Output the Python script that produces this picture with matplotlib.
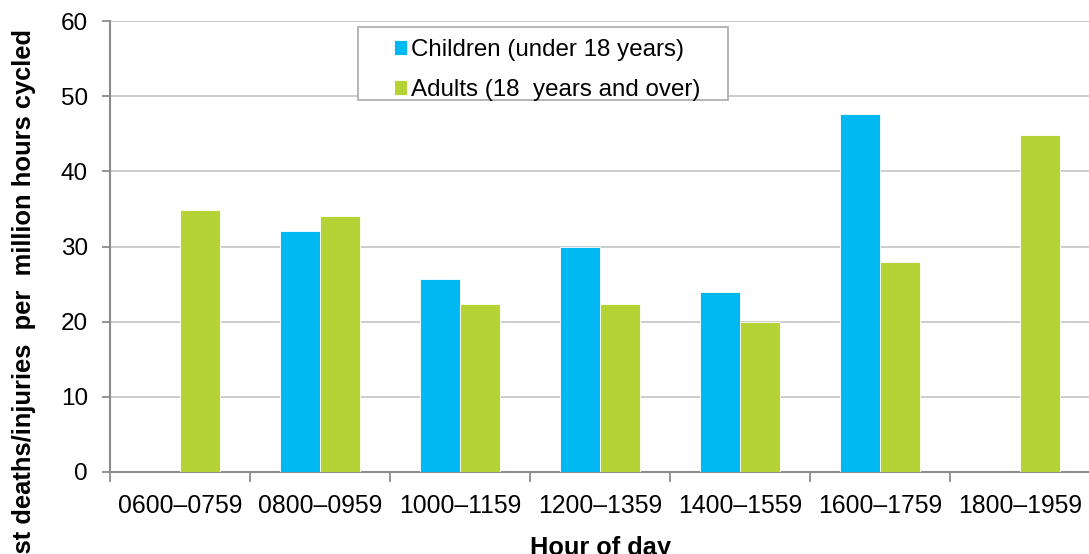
import numpy as np
import matplotlib
matplotlib.use("Agg")
import matplotlib.pyplot as plt
from matplotlib.patches import Rectangle

# данные
hours = ["0600–0759", "0800–0959", "1000–1159", "1200–1359",
         "1400–1559", "1600–1759", "1800–1959"]
children = [0, 32.0, 25.7, 30.0, 23.9, 47.6, 0]
adults = [34.8, 34.0, 22.3, 22.3, 19.9, 27.9, 44.9]
series_names = ["Children (under 18 years)", "Adults (18  years and over)"]

plt.rcParams['font.family'] = ['Liberation Sans', 'DejaVu Sans']

fig = plt.figure(figsize=(10.89, 5.54), dpi=100)
ax = fig.add_axes([110 / 1089, 1 - 472 / 554, 980 / 1089, 451 / 554])

x = np.arange(len(hours)) + 0.5
w = 0.286
b1 = ax.bar(x - w / 2, children, w, color='#00B9F2', edgecolor='white', linewidth=0.6,
            label=series_names[0], zorder=3)
b2 = ax.bar(x + w / 2, adults, w, color='#B5D334', edgecolor='white', linewidth=0.6,
            label=series_names[1], zorder=3)

ax.set_xlim(0, len(hours))
ax.set_ylim(0, 60)
ax.set_yticks(range(0, 61, 10))
ax.yaxis.grid(True, color='#c8c8c8', linewidth=1.3, zorder=0)
ax.set_axisbelow(True)

# тики на границах категорий, подписи по центру
ax.set_xticks(np.arange(len(hours) + 1))
ax.set_xticklabels([])
ax.set_xticks(x, minor=True)
ax.set_xticklabels(hours, minor=True)
ax.tick_params(axis='x', which='minor', length=0, pad=16, labelsize=17.8)
ax.tick_params(axis='x', which='major', length=7, width=1.3, color='#8c8c8c')
ax.tick_params(axis='y', length=6, width=1.3, color='#8c8c8c', pad=10, labelsize=17.5)

for s in ['top', 'right']:
    ax.spines[s].set_visible(False)
for s in ['left', 'bottom']:
    ax.spines[s].set_color('#8c8c8c')
    ax.spines[s].set_linewidth(1.5)

ax.set_xlabel("Hour of day", fontsize=18.3, fontweight='bold', labelpad=13)
fig.text(24 / 1089, 1 - 29 / 554, "Cyclist deaths/injuries  per  million hours cycled",
         rotation=90, ha='center', va='top', fontsize=18.4, fontweight='bold')

# рамка легенды
box = Rectangle((358 / 1089, 1 - 100 / 554), 370 / 1089, 73 / 554,
                transform=fig.transFigure, facecolor='white', edgecolor='#b0b0b0',
                linewidth=1.3, zorder=5)
fig.patches.append(box)
leg = fig.legend(handles=[b1, b2], loc='upper left',
                 bbox_to_anchor=(377 / 1089, 1 - 22 / 554), frameon=False,
                 fontsize=17.4, handlelength=0.55, handleheight=0.55,
                 handletextpad=0.15, labelspacing=0.75, borderpad=0.2)
leg.set_zorder(6)

fig.savefig("out.png", dpi=100)
